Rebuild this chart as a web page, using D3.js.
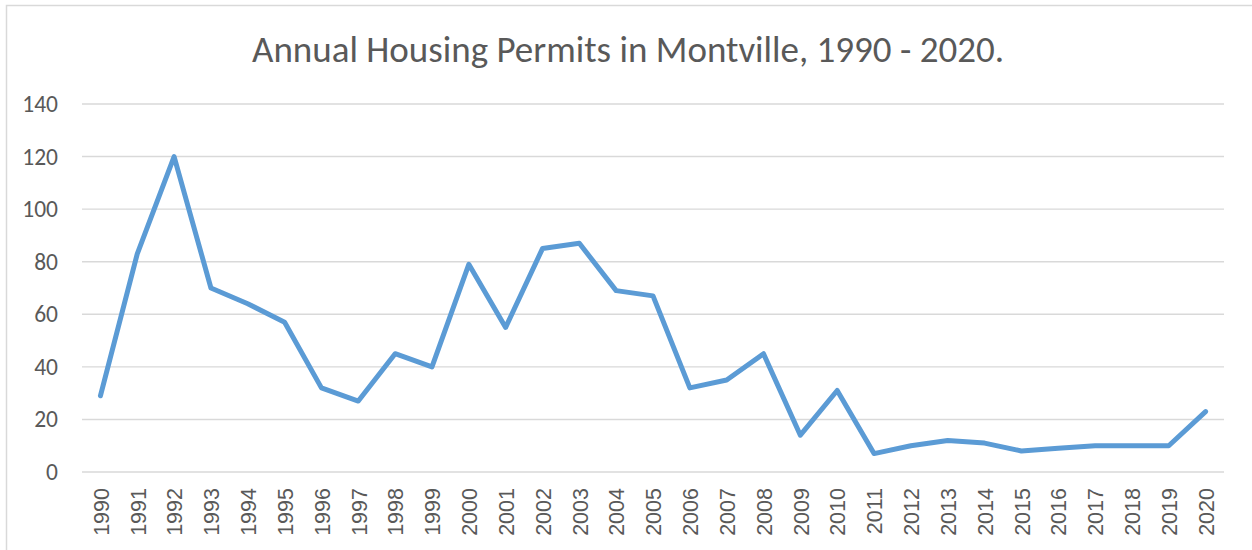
<!doctype html>
<html lang="en">
<head>
  <meta charset="utf-8">
  <title>Annual Housing Permits in Montville</title>
  <style>
    html, body { margin: 0; padding: 0; background: #fff; }
    svg { display: block; }
  </style>
</head>
<body>
  <script src="https://cdn.jsdelivr.net/npm/d3@7"></script>
  <script>
    // Data
    const years = [1990, 1991, 1992, 1993, 1994, 1995, 1996, 1997, 1998, 1999,
                   2000, 2001, 2002, 2003, 2004, 2005, 2006, 2007, 2008, 2009,
                   2010, 2011, 2012, 2013, 2014, 2015, 2016, 2017, 2018, 2019, 2020];
    const permits = [29, 83, 120, 70, 64, 57, 32, 27, 45, 40,
                     79, 55, 85, 87, 69, 67, 32, 35, 45, 14,
                     31, 7, 10, 12, 11, 8, 9, 10, 10, 10, 23];
    const yTicks = [0, 20, 40, 60, 80, 100, 120, 140];

    const w = 1252;
    const h = 550;
    const plotLeft = 82;
    const plotRight = 1224;
    const plotTop = 104;
    const plotBottom = 472;

    const svg = d3.select('body')
                  .append('svg')
                  .attr('width', w)
                  .attr('height', h);

    // Chart frame
    svg.append('rect')
       .attr('x', 6.5)
       .attr('y', 5.5)
       .attr('width', 1400)
       .attr('height', 700)
       .attr('fill', '#fff')
       .attr('stroke', '#d9d9d9')
       .attr('stroke-width', 1.5);

    // Scales
    const xScale = d3.scalePoint()
                     .domain(years)
                     .range([plotLeft, plotRight])
                     .padding(0.5);

    const yScale = d3.scaleLinear()
                     .domain([0, 140])
                     .range([plotBottom, plotTop]);

    // Title
    svg.append('text')
       .attr('x', 628)
       .attr('y', 62)
       .attr('text-anchor', 'middle')
       .style('font-family', 'Carlito, Lato, sans-serif')
       .style('font-size', '37px')
       .style('fill', '#595959')
       .text('Annual Housing Permits in Montville, 1990 - 2020.');

    // Horizontal gridlines
    svg.append('g')
       .selectAll('line')
       .data(yTicks)
       .enter()
       .append('line')
       .attr('x1', plotLeft)
       .attr('x2', plotRight)
       .attr('y1', (d) => yScale(d))
       .attr('y2', (d) => yScale(d))
       .attr('stroke', '#d9d9d9')
       .attr('stroke-width', 1.4);

    // Y axis
    const yAxis = d3.axisLeft(yScale)
                    .tickValues(yTicks)
                    .tickSize(0)
                    .tickPadding(24);

    const gy = svg.append('g')
                  .attr('transform', `translate(${plotLeft}, 0)`)
                  .call(yAxis);
    gy.select('.domain').remove();
    gy.selectAll('text')
      .style('font-family', 'Carlito, Lato, sans-serif')
      .style('font-size', '23.5px')
      .style('fill', '#595959');

    // X axis
    const xAxis = d3.axisBottom(xScale)
                    .tickSize(0);

    const gx = svg.append('g')
                  .attr('transform', `translate(0, ${plotBottom})`)
                  .call(xAxis);
    gx.select('.domain').remove();
    gx.selectAll('text')
      .attr('transform', 'rotate(-90)')
      .attr('x', -16)
      .attr('y', 0)
      .attr('dy', '0.36em')
      .attr('text-anchor', 'end')
      .style('font-family', '"Liberation Sans", Arial, sans-serif')
      .style('font-size', '21.5px')
      .style('fill', '#595959');

    // Line
    const line = d3.line()
                   .x((d, i) => xScale(years[i]))
                   .y((d) => yScale(d));

    svg.append('path')
       .datum(permits)
       .attr('d', line)
       .attr('fill', 'none')
       .attr('stroke', '#5b9bd5')
       .attr('stroke-width', 5)
       .attr('stroke-linejoin', 'round')
       .attr('stroke-linecap', 'round');
  </script>
</body>
</html>
